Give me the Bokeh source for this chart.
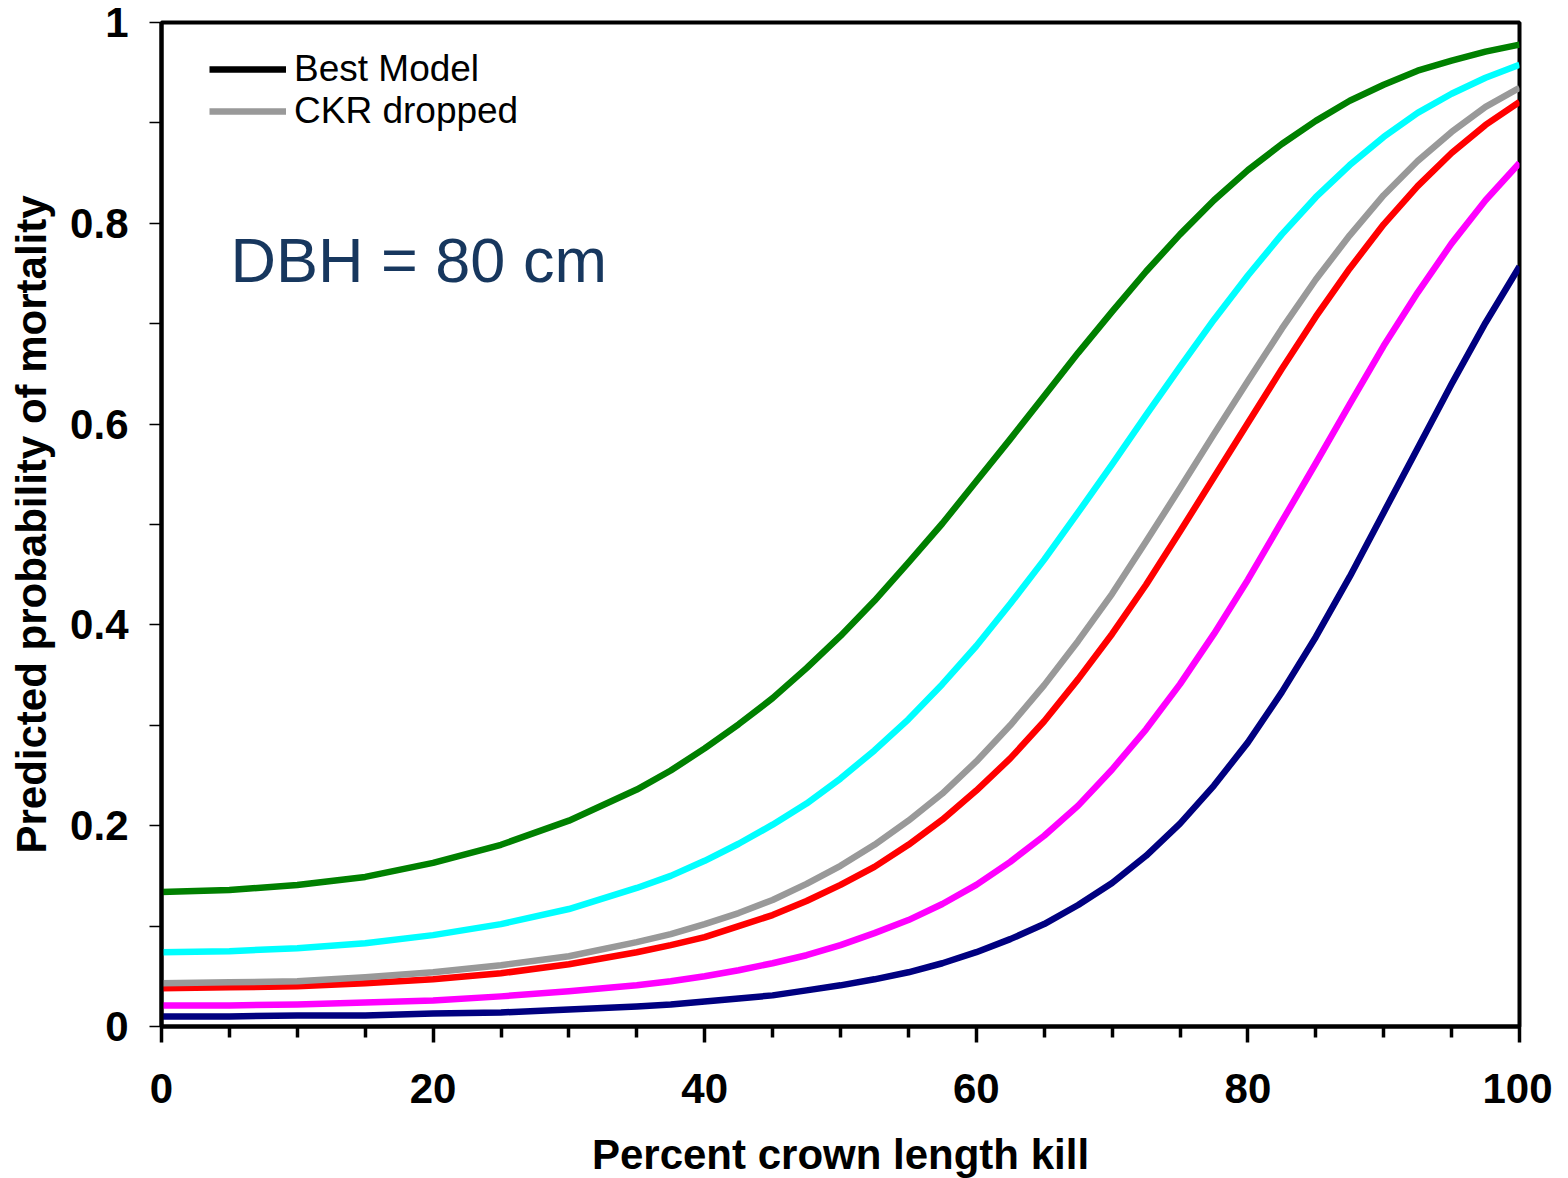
from bokeh.plotting import figure
from bokeh.models import (ColumnDataSource, FixedTicker, CustomJSTickFormatter,
                          Legend, LegendItem, Label, Range1d)
from bokeh.embed import file_html
from bokeh.resources import INLINE

# ---- data ----
crown_kill = [0, 5, 10, 15, 20, 25, 30, 35, 37.5, 40, 42.5, 45, 47.5, 50, 52.5,
              55, 57.5, 60, 62.5, 65, 67.5, 70, 72.5, 75, 77.5, 80, 82.5, 85,
              87.5, 90, 92.5, 95, 97.5, 100]

curve_green = [0.134, 0.136, 0.141, 0.149, 0.163, 0.181, 0.205, 0.236, 0.255, 0.277,
               0.301, 0.327, 0.357, 0.389, 0.424, 0.462, 0.501, 0.543, 0.585, 0.628,
               0.671, 0.712, 0.752, 0.789, 0.823, 0.853, 0.879, 0.902, 0.922, 0.938,
               0.952, 0.962, 0.971, 0.978]
curve_cyan = [0.074, 0.075, 0.078, 0.083, 0.091, 0.102, 0.117, 0.138, 0.150, 0.165,
              0.182, 0.201, 0.222, 0.247, 0.275, 0.306, 0.341, 0.379, 0.421, 0.465,
              0.512, 0.560, 0.609, 0.657, 0.704, 0.748, 0.789, 0.826, 0.858, 0.886,
              0.910, 0.929, 0.945, 0.958]
curve_gray = [0.043, 0.044, 0.045, 0.049, 0.054, 0.061, 0.070, 0.084, 0.092, 0.102,
              0.113, 0.126, 0.142, 0.160, 0.181, 0.205, 0.232, 0.264, 0.300, 0.340,
              0.384, 0.431, 0.483, 0.536, 0.590, 0.643, 0.695, 0.744, 0.788, 0.828,
              0.862, 0.891, 0.916, 0.935]
curve_red = [0.038, 0.039, 0.040, 0.043, 0.047, 0.053, 0.062, 0.074, 0.081, 0.089,
             0.100, 0.111, 0.125, 0.141, 0.159, 0.181, 0.206, 0.235, 0.267, 0.304,
             0.346, 0.391, 0.440, 0.493, 0.547, 0.601, 0.655, 0.707, 0.755, 0.799,
             0.837, 0.870, 0.898, 0.921]
curve_magenta = [0.021, 0.021, 0.022, 0.024, 0.026, 0.030, 0.035, 0.041, 0.045, 0.050,
                 0.056, 0.063, 0.071, 0.081, 0.093, 0.106, 0.122, 0.141, 0.164, 0.190,
                 0.220, 0.256, 0.296, 0.341, 0.391, 0.445, 0.503, 0.561, 0.620, 0.678,
                 0.731, 0.780, 0.823, 0.860]
curve_navy = [0.010, 0.010, 0.011, 0.011, 0.013, 0.014, 0.017, 0.020, 0.022, 0.025,
              0.028, 0.031, 0.036, 0.041, 0.047, 0.054, 0.063, 0.074, 0.087, 0.102,
              0.121, 0.143, 0.170, 0.202, 0.240, 0.283, 0.333, 0.388, 0.448, 0.512,
              0.576, 0.640, 0.701, 0.757]

x_ticks = [0, 20, 40, 60, 80, 100]
x_minor = [5, 10, 15, 25, 30, 35, 45, 50, 55, 65, 70, 75, 85, 90, 95]
y_ticks = [0, 0.2, 0.4, 0.6, 0.8, 1.0]
y_minor = [0.1, 0.3, 0.5, 0.7, 0.9]

legend_labels = ["Best Model", "CKR dropped"]
annotation_text = "DBH = 80 cm"
x_title = "Percent crown length kill"
y_title = "Predicted probability of mortality"

FONT = "Liberation Sans"

p = figure(frame_width=1358, frame_height=1004,
           x_range=Range1d(0, 100), y_range=Range1d(0, 1),
           output_backend="svg", toolbar_location=None,
           min_border_left=161, min_border_top=22, min_border_right=33,
           min_border_bottom=138, background_fill_color="white",
           border_fill_color="white")

p.grid.visible = False
p.outline_line_color = "black"
p.outline_line_width = 4

series = [
    ("navy", curve_navy, "#000080"),
    ("magenta", curve_magenta, "#FF00FF"),
    ("red", curve_red, "#FF0000"),
    ("gray", curve_gray, "#999999"),
    ("cyan", curve_cyan, "#00FFFF"),
    ("green", curve_green, "#008000"),
]
renderers = {}
for name, vals, col in series:
    src = ColumnDataSource(dict(x=crown_kill, y=vals))
    renderers[name] = p.line("x", "y", source=src, line_color=col, line_width=6.5,
                             line_join="round")

dummy = p.line(x=[float("nan")], y=[float("nan")], line_color="black", line_width=6.5)

legend = Legend(items=[LegendItem(label=legend_labels[0], renderers=[dummy]),
                       LegendItem(label=legend_labels[1], renderers=[renderers["gray"]])],
                location=(48, 894), margin=0, padding=0, spacing=0,
                glyph_width=77, glyph_height=40, label_height=40,
                label_standoff=8, border_line_color=None,
                background_fill_alpha=0,
                label_text_font=FONT, label_text_font_size="37px",
                label_text_color="black")
p.add_layout(legend)

p.add_layout(Label(x=5.08, y=0.763, text=annotation_text, text_font=FONT,
                   text_font_size="63px", text_color="#17375E",
                   text_baseline="alphabetic"))

# X axis
xa = p.xaxis[0]
xa.ticker = FixedTicker(ticks=x_ticks, minor_ticks=x_minor)
xa.axis_line_width = 4
xa.axis_line_color = "black"
xa.major_tick_line_width = 3.5
xa.minor_tick_line_width = 3.5
xa.major_tick_in = 0
xa.major_tick_out = 16
xa.minor_tick_in = 0
xa.minor_tick_out = 11
xa.major_label_standoff = 31
xa.major_label_text_font = FONT
xa.major_label_text_font_style = "bold"
xa.major_label_text_font_size = "42px"
xa.major_label_text_color = "black"
xa.axis_label = x_title
xa.axis_label_text_font = FONT
xa.axis_label_text_font_style = "bold"
xa.axis_label_text_font_size = "42px"
xa.axis_label_text_color = "black"
xa.axis_label_standoff = 25

# Y axis
ya = p.yaxis[0]
ya.ticker = FixedTicker(ticks=y_ticks, minor_ticks=y_minor)
ya.formatter = CustomJSTickFormatter(code="return (Math.round(tick*10)/10).toString();")
ya.axis_line_width = 4
ya.axis_line_color = "black"
ya.major_tick_line_width = 1.5
ya.minor_tick_line_width = 1.5
ya.major_tick_in = 0
ya.major_tick_out = 12
ya.minor_tick_in = 0
ya.minor_tick_out = 12
ya.major_label_standoff = 21
ya.major_label_text_font = FONT
ya.major_label_text_font_style = "bold"
ya.major_label_text_font_size = "42px"
ya.major_label_text_color = "black"
ya.axis_label = y_title
ya.axis_label_text_font = FONT
ya.axis_label_text_font_style = "bold"
ya.axis_label_text_font_size = "42px"
ya.axis_label_text_color = "black"
ya.axis_label_standoff = 12

open("out.html", "w").write(file_html(p, INLINE))
